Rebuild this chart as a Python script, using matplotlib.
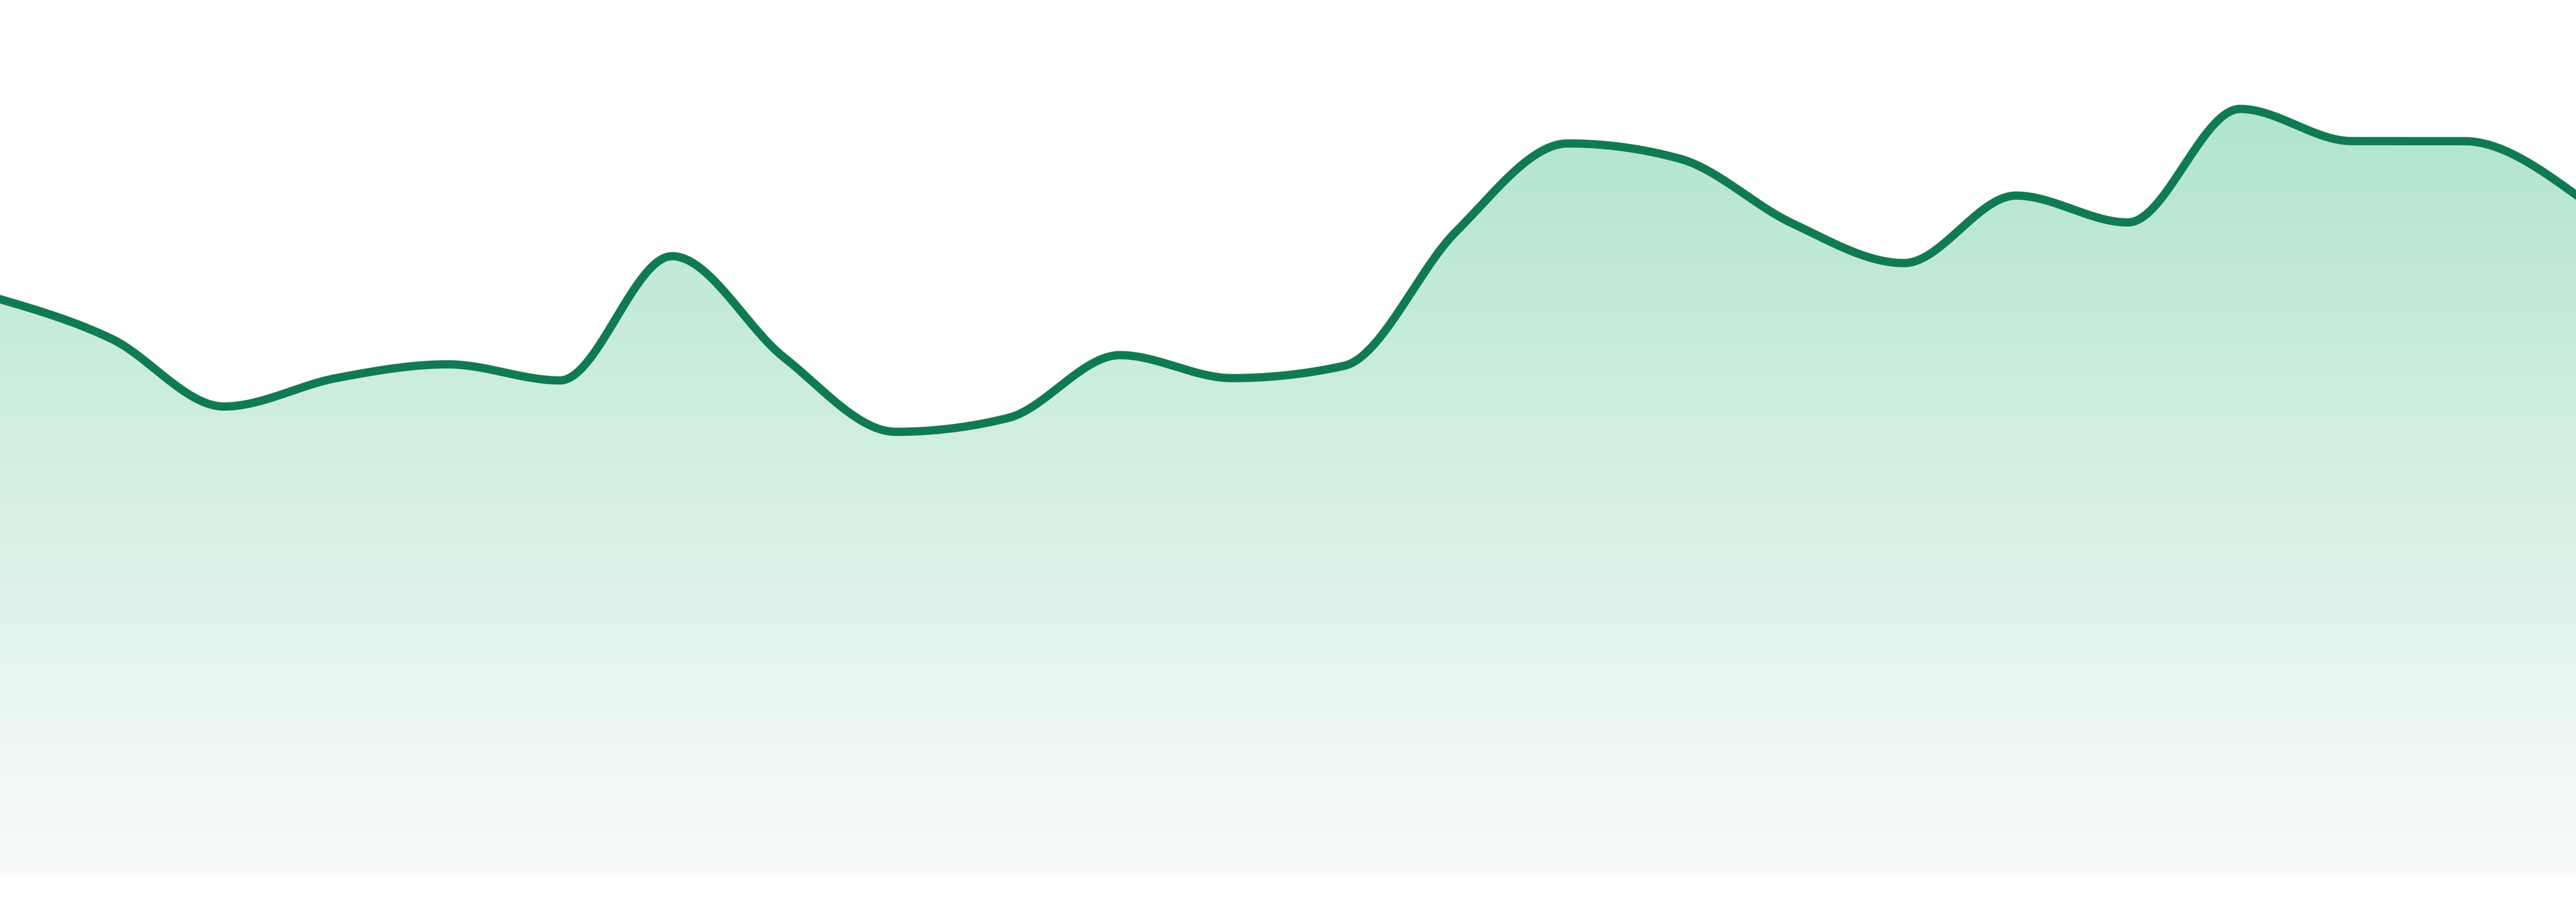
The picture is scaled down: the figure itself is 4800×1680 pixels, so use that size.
import numpy as np
import matplotlib
matplotlib.use("Agg")
import matplotlib.pyplot as plt
from matplotlib.colors import LinearSegmentedColormap

# 24 evenly spaced samples
index = list(range(24))
values = [75.2, 70.0, 61.2, 64.9, 66.7, 64.6, 80.8, 67.6, 57.9, 59.7, 67.9, 64.9,
          66.5, 84.0, 95.5, 93.5, 85.1, 79.9, 88.7, 85.2, 100.0, 95.8, 95.8, 88.8]

LINE_COLOR = "#107b53"
FILL_TOP = "#b1e5cd"
FILL_BOTTOM = "#fafcfb"


def monotone_curve(x, y, steps=40):
    # same slopes as d3.curveMonotoneX, evaluated as cubic hermite
    x = np.asarray(x, float)
    y = np.asarray(y, float)
    h = np.diff(x)
    s = np.diff(y) / h
    t = np.zeros_like(y)
    for i in range(1, len(y) - 1):
        p = (s[i - 1] * h[i] + s[i] * h[i - 1]) / (h[i - 1] + h[i])
        t[i] = (np.sign(s[i - 1]) + np.sign(s[i])) * min(abs(s[i - 1]), abs(s[i]), 0.5 * abs(p))
    t[0] = (3 * s[0] - t[1]) / 2
    t[-1] = (3 * s[-1] - t[-2]) / 2
    xs, ys = [], []
    for i in range(len(h)):
        u = np.linspace(0, 1, steps, endpoint=False)
        h00 = 2 * u**3 - 3 * u**2 + 1
        h10 = u**3 - 2 * u**2 + u
        h01 = -2 * u**3 + 3 * u**2
        h11 = u**3 - u**2
        xs.append(x[i] + u * h[i])
        ys.append(h00 * y[i] + h10 * h[i] * t[i] + h01 * y[i + 1] + h11 * h[i] * t[i + 1])
    xs.append([x[-1]])
    ys.append([y[-1]])
    return np.concatenate(xs), np.concatenate(ys)


cx, cy = monotone_curve(index, values)

fig = plt.figure(figsize=(16, 5.6), dpi=300)
ax = fig.add_axes([0, 0, 1, 1])
ax.set_xlim(index[0], index[-1])
ax.set_ylim(-3.4, 114.2)
ax.axis("off")

# gradient area under the curve
poly = ax.fill_between(cx, cy, 0, color="none", lw=0)
cmap = LinearSegmentedColormap.from_list("area", [FILL_BOTTOM, FILL_TOP])
grad = np.linspace(0, 1, 256).reshape(-1, 1)
img = ax.imshow(grad, cmap=cmap, origin="lower", aspect="auto",
                extent=[index[0], index[-1], 0, max(values)], zorder=1)
img.set_clip_path(poly.get_paths()[0], transform=ax.transData)
ax.set_xlim(index[0], index[-1])
ax.set_ylim(-3.4, 114.2)

ax.plot(cx, cy, color=LINE_COLOR, lw=3.7, solid_joinstyle="round", zorder=3)

fig.savefig("out.png", dpi=300, facecolor="white")
